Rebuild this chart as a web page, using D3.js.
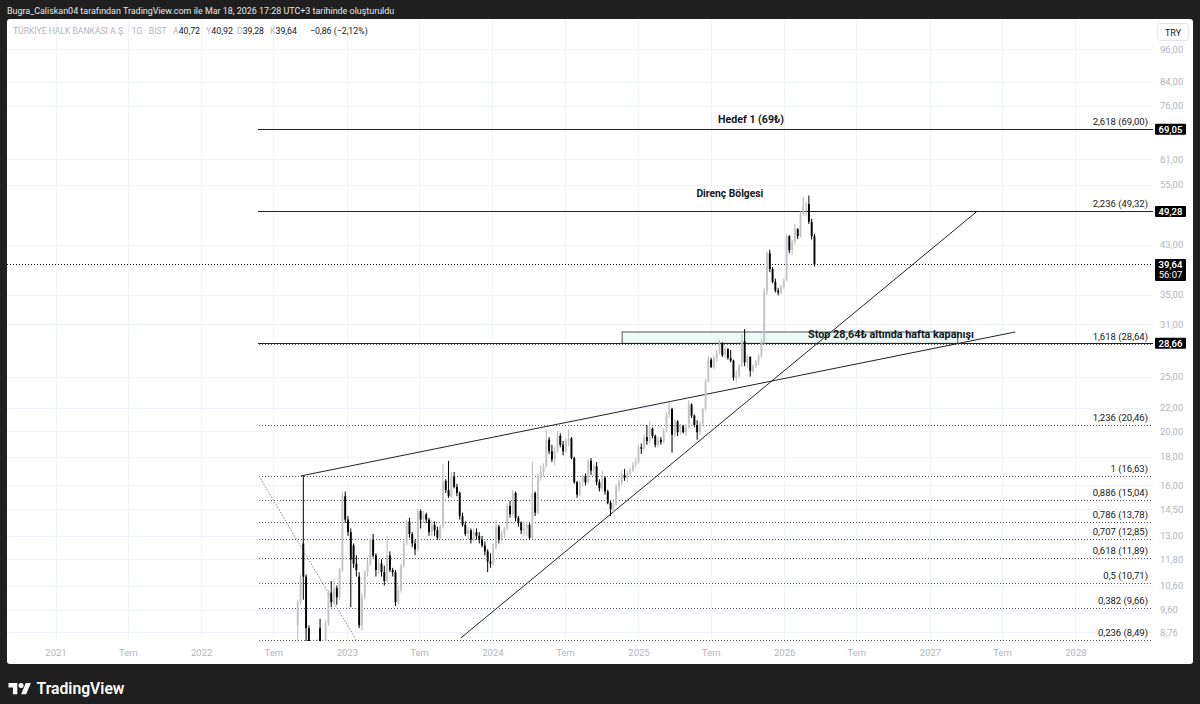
<!DOCTYPE html>
<html><head><meta charset="utf-8">
<script src="https://cdn.jsdelivr.net/npm/d3@7"></script>
<style>
html,body{margin:0;padding:0;background:#1f1f1f;}
svg{display:block;}
text{font-family:Roboto,"Noto Sans",sans-serif;}
</style>
</head><body>
<svg id="c" width="1200" height="704"></svg>
<script>
// ---------- DATA ----------
const weekStart = "2022-08-29";
const opens = [
9.0,9.9,12.6,11.0,8.9,8.0,7.6,7.3,8.9,8.1,
8.3,9.1,10.3,9.9,10.5,10.1,11.3,15.3,13.9,13.2,
12.5,11.6,11.0,9.0,10.1,11.2,11.6,12.8,12.0,11.3,
11.6,11.2,10.8,12.0,11.3,11.2,9.9,10.4,11.5,12.6,
13.8,13.1,12.6,12.3,14.4,13.9,14.2,13.9,13.2,13.6,
13.3,12.9,13.5,16.3,15.7,15.3,16.6,15.9,15.5,14.1,
13.6,13.1,13.3,12.8,13.2,13.0,12.8,12.5,12.2,11.7,
11.6,12.4,13.5,12.8,13.1,13.4,14.7,14.2,15.5,14.0,
13.7,13.3,13.4,13.6,12.9,15.5,14.3,16.6,16.9,17.3,
19.3,18.4,17.8,18.4,19.6,18.9,18.4,19.2,19.4,17.9,
16.2,15.4,16.2,16.6,16.2,17.7,17.0,17.3,16.2,15.8,
16.5,15.6,14.9,14.5,14.8,15.9,16.2,16.7,16.5,16.8,
17.0,17.4,17.6,18.7,18.6,19.5,19.2,20.2,19.6,18.9,
19.3,19.1,20.0,21.4,21.9,19.7,20.8,19.9,20.4,19.9,
20.3,22.3,21.3,20.5,19.9,20.6,21.9,24.5,26.8,26.0,
27.0,27.6,28.6,27.3,28.0,27.0,26.7,24.9,25.0,26.2,
28.9,26.5,27.1,25.6,26.1,26.6,27.2,28.8,35.5,41.5,
38.9,36.9,35.6,35.3,36.1,37.1,44.5,42.0,43.5,45.8,
44.5,48.8,50.6,50.8,47.2,44.5];
const highs = [
10.0,11.1,16.63,11.1,9.0,8.2,7.8,8.5,9.25,8.5,
9.2,10.4,10.8,10.9,10.6,11.4,15.6,15.6,14.1,13.4,
12.6,12.0,11.2,10.3,11.3,11.8,12.9,13.1,12.1,11.8,
11.8,11.5,13.0,12.2,11.4,11.3,10.6,11.6,12.8,13.9,
14.0,13.2,12.8,14.5,14.5,14.4,14.3,14.0,13.9,13.8,
13.5,13.6,17.5,16.4,17.7,16.9,16.9,16.1,15.6,14.3,
13.8,13.5,13.4,13.4,13.4,13.2,13.0,12.7,12.3,12.1,
12.6,13.9,13.6,13.3,13.5,14.8,15.0,15.7,15.6,14.1,
13.8,13.8,13.8,13.7,17.6,15.6,16.8,17.4,17.5,20.1,
19.5,18.9,18.7,20.0,19.8,19.2,19.4,20.1,19.5,18.0,
16.3,16.3,16.7,16.8,17.8,17.9,17.5,17.6,16.4,17.0,
16.6,15.7,15.0,15.0,16.1,16.4,17.0,17.1,17.0,17.2,
17.6,17.9,18.9,19.0,19.7,20.5,20.8,20.3,19.7,19.5,
19.5,20.2,21.6,22.5,22.0,21.0,20.9,20.6,20.5,20.5,
22.7,22.4,21.4,20.9,20.8,22.0,24.8,27.2,27.0,27.3,
27.9,29.1,28.8,28.4,28.1,27.9,26.8,25.6,26.3,29.7,
30.4,27.4,27.2,26.3,26.8,27.4,29.2,36.0,41.8,42.1,
39.2,37.4,36.0,36.5,37.4,44.8,44.7,43.9,46.8,46.0,
49.3,52.3,51.3,52.6,47.8,44.9];
const lows = [
8.4,9.8,10.0,8.3,7.8,7.4,7.1,7.2,7.9,7.8,
8.2,9.0,9.7,9.8,9.8,10.0,11.2,13.7,13.0,9.7,
11.4,11.0,8.9,8.8,10.0,11.0,11.5,11.9,11.0,11.1,
11.0,10.6,10.7,11.2,11.0,9.75,9.8,10.3,11.4,12.5,
12.9,12.4,12.0,12.2,13.4,13.7,13.7,13.0,13.0,13.0,
12.8,12.8,13.4,15.5,15.2,15.2,15.8,15.3,13.9,13.5,
13.0,12.8,12.6,12.7,12.8,12.6,12.4,12.0,11.2,11.4,
11.5,12.3,12.6,12.7,12.9,13.3,14.0,14.1,13.8,13.5,
13.1,13.0,13.0,12.8,12.8,14.1,14.2,16.3,16.6,17.2,
18.2,17.6,17.4,18.3,18.7,18.1,18.3,18.8,17.8,16.1,
15.2,15.3,15.9,16.0,16.1,16.7,16.6,16.0,15.6,15.6,
15.4,14.8,14.1,14.3,14.7,15.6,16.0,16.3,16.2,16.6,
16.9,17.2,17.5,18.2,18.5,18.9,19.0,19.4,18.7,18.7,
18.9,19.0,19.9,21.1,18.3,19.5,19.6,19.7,19.8,19.6,
20.2,21.1,20.3,19.3,19.7,20.4,21.7,24.4,25.9,25.8,
26.6,27.4,27.1,27.0,26.8,26.5,24.6,24.4,24.9,26.0,
26.1,25.9,25.0,25.4,25.9,26.2,27.0,28.6,35.0,38.4,
36.7,35.3,34.9,35.0,35.9,37.0,41.5,41.2,43.0,44.0,
44.3,48.4,48.4,46.8,43.9,39.28];
const closes = [
9.9,10.9,11.0,8.9,8.0,7.6,7.3,8.4,8.1,8.3,
9.1,10.3,9.9,10.5,10.1,11.3,15.3,13.9,13.2,11.8,
11.6,11.3,9.0,10.1,11.2,11.6,12.8,12.0,11.3,11.6,
11.2,10.8,12.0,11.3,11.2,9.9,10.4,11.5,12.6,13.8,
13.1,12.6,12.3,14.4,13.9,14.2,13.9,13.2,13.6,13.3,
12.9,13.5,16.2,15.7,15.3,16.6,15.9,15.5,14.1,13.6,
13.1,13.3,12.8,13.2,13.0,12.8,12.5,12.2,11.7,11.6,
12.4,13.5,12.8,13.1,13.4,14.7,14.2,15.5,14.0,13.7,
13.3,13.4,13.6,12.9,15.5,14.3,16.6,16.9,17.3,19.3,
18.4,17.8,18.4,19.6,18.9,18.4,19.2,19.4,17.9,16.2,
15.4,16.2,16.6,16.2,17.7,17.0,17.3,16.2,15.8,16.5,
15.6,14.9,14.5,14.8,15.9,16.2,16.7,16.5,16.8,17.0,
17.4,17.6,18.7,18.6,19.5,19.2,20.2,19.6,18.9,19.3,
19.1,20.0,21.4,21.9,19.7,20.8,19.9,20.4,19.9,20.3,
22.3,21.3,20.5,19.9,20.6,21.9,24.5,26.8,26.0,27.0,
27.6,28.6,27.3,28.0,27.0,26.7,24.9,25.0,26.2,28.9,
26.5,27.1,25.6,26.1,26.6,27.2,28.8,35.5,41.5,38.9,
36.9,35.6,35.3,36.1,37.1,44.5,42.0,43.5,45.8,44.5,
48.8,50.6,50.8,47.2,44.5,39.64];

const priceTicks = [96,84,76,61,55,43,35,31,25,22,20,18,16,14.5,13,11.8,10.6,9.6,8.76];
const timeTicks = ["2021-01-01","2021-07-01","2022-01-01","2022-07-01","2023-01-01","2023-07-01","2024-01-01","2024-07-01","2025-01-01","2025-07-01","2026-01-01","2026-07-01","2027-01-01","2027-07-01","2028-01-01"];
const timeLabels = ["2021","Tem","2022","Tem","2023","Tem","2024","Tem","2025","Tem","2026","Tem","2027","Tem","2028"];

const fibRatios = [2.618,2.236,1.618,1.236,1,0.886,0.786,0.707,0.618,0.5,0.382,0.236];
const fibPrices = [69.00,49.32,28.64,20.46,16.63,15.04,13.78,12.85,11.89,10.71,9.66,8.49];
const fibStartDate = "2022-05-26";
const fibEndDate = "2023-04-09";
const fibHigh = 16.63;
const fibLow = 6.90;

const rayPrices = [69.05, 49.28, 28.66];
const lastPrice = 39.64;
const countdown = "56:07";

const trendStarts = [["2022-09-08",16.63],["2023-10-14",8.55]];
const trendEnds   = [["2027-08-03",30.03],["2027-04-30",49.33]];

const boxDates = ["2024-11-21","2027-03-12"];
const boxPrices = [30.03, 28.66];

const noteTexts = ["Hedef 1 (69₺)","Direnç Bölgesi","Stop 28,64₺ altında hafta kapanışı"];
const noteDates = ["2025-10-10","2025-08-18","2026-03-02"];
const notePrices = [70.85, 52.3, 29.3];

const symbolName = "TÜRKİYE HALK BANKASI A.Ş. · 1G · BIST";
const legendKeys = ["A","Y","D","K"];
const legendVals = [40.72,40.92,39.28,39.64];
const changeAbs = -0.86, changePct = -2.12;
const headerText = "Bugra_Caliskan04 tarafından TradingView.com ile Mar 18, 2026 17:28 UTC+3 tarihinde oluşturuldu";

// ---------- SETUP ----------
const svg = d3.select("#c");
const W = 1200, H = 704;
const plot = {left:7, right:1153, top:19, bottom:641};
const parse = d3.timeParse("%Y-%m-%d");
const loc = d3.formatLocale({decimal:",", thousands:".", grouping:[3], currency:["","₺"], minus:"−"});
const f2 = loc.format(".2f");
const fRatio = r => String(r).replace(".", ",");
function fitWidth(sel, target){
  const n = sel.node(); const L = n.getComputedTextLength();
  if (L > 0) sel.attr("font-size", (+sel.attr("font-size")) * target / L);
  return sel;
}

const x = d3.scaleTime().domain([parse("2021-01-01"), parse("2027-01-01")]).range([55.5, 929.8]);
const y = d3.scaleLog().domain([8.76, 96]).range([632, 49]);

// background
svg.append("rect").attr("width",W).attr("height",H).attr("fill","#1f1f1f");
svg.append("rect").attr("x",7).attr("y",19).attr("width",1186).attr("height",645).attr("rx",3).attr("fill","#ffffff");

// header
fitWidth(svg.append("text").attr("x",7).attr("y",14).attr("fill","#e8e8e8").attr("font-size",10.5).text(headerText), 388);

// clip
svg.append("defs").append("clipPath").attr("id","pc").append("rect")
  .attr("x",plot.left).attr("y",plot.top).attr("width",plot.right-plot.left).attr("height",plot.bottom-plot.top);

// grid
const grid = svg.append("g").attr("clip-path","url(#pc)");
grid.selectAll("line.h").data(priceTicks).join("line")
  .attr("x1",plot.left).attr("x2",plot.right).attr("y1",d=>Math.round(y(d))+0.5).attr("y2",d=>Math.round(y(d))+0.5)
  .attr("stroke","#f0f3fa").attr("stroke-width",1);
grid.selectAll("line.v").data(timeTicks.map(parse)).join("line")
  .attr("x1",d=>Math.round(x(d))+0.5).attr("x2",d=>Math.round(x(d))+0.5).attr("y1",plot.top).attr("y2",plot.bottom)
  .attr("stroke","#f0f3fa").attr("stroke-width",1);

// price axis
const yAxis = d3.axisRight(y).tickValues(priceTicks).tickFormat(f2).tickSize(0).tickPadding(0);
const ya = svg.append("g").attr("transform",`translate(1160,0)`).call(yAxis);
ya.select(".domain").remove();
ya.selectAll("text").attr("fill","#b2b5be").attr("font-size",9.5).attr("font-family","Roboto, sans-serif");

// time axis
const xAxis = d3.axisBottom(x).tickValues(timeTicks.map(parse)).tickFormat((d,i)=>timeLabels[i]).tickSize(0).tickPadding(3);
const xa = svg.append("g").attr("transform",`translate(0,646)`).call(xAxis);
xa.select(".domain").remove();
xa.selectAll("text").attr("fill","#b2b5be").attr("font-size",9.5).attr("font-family","Roboto, sans-serif");

// chart layer
const g = svg.append("g").attr("clip-path","url(#pc)");

// stop box
g.append("rect")
  .attr("x",x(parse(boxDates[0]))).attr("y",y(boxPrices[0]))
  .attr("width",x(parse(boxDates[1]))-x(parse(boxDates[0]))).attr("height",y(boxPrices[1])-y(boxPrices[0]))
  .attr("fill","#edf9f5").attr("stroke","#555").attr("stroke-width",1);

// fib levels
const fx1 = x(parse(fibStartDate));
g.selectAll("line.fib").data(fibPrices).join("line")
  .attr("x1",fx1).attr("x2",plot.right).attr("y1",d=>Math.round(y(d))+0.5).attr("y2",d=>Math.round(y(d))+0.5)
  .attr("stroke","#555").attr("stroke-width",1).attr("stroke-dasharray","1,2");
g.append("line").attr("x1",fx1).attr("y1",y(fibHigh)).attr("x2",x(parse(fibEndDate))).attr("y2",y(fibLow))
  .attr("stroke","#888").attr("stroke-width",1).attr("stroke-dasharray","1.5,1.5");
svg.selectAll("text.fib").data(fibPrices).join("text")
  .attr("x",1148).attr("y",d=>y(d)-4).attr("text-anchor","end").attr("font-size",9.5).attr("fill","#131722")
  .text((d,i)=>`${fRatio(fibRatios[i])} (${f2(d)})`);

// horizontal rays
g.selectAll("line.ray").data(rayPrices).join("line")
  .attr("x1",fx1-1).attr("x2",plot.right).attr("y1",d=>Math.round(y(d))+0.5).attr("y2",d=>Math.round(y(d))+0.5)
  .attr("stroke","#222").attr("stroke-width",1);

// current price line
g.append("line").attr("x1",plot.left).attr("x2",plot.right)
  .attr("y1",Math.round(y(lastPrice))+0.5).attr("y2",Math.round(y(lastPrice))+0.5)
  .attr("stroke","#131722").attr("stroke-width",1).attr("stroke-dasharray","1,2");

// trend lines
g.selectAll("line.tr").data(trendStarts).join("line")
  .attr("x1",d=>x(parse(d[0]))).attr("y1",d=>y(d[1]))
  .attr("x2",(d,i)=>x(parse(trendEnds[i][0]))).attr("y2",(d,i)=>y(trendEnds[i][1]))
  .attr("stroke","#222").attr("stroke-width",1);

// candles
const candles = closes.map((c,i)=>({date:d3.timeDay.offset(parse(weekStart),7*i+2), o:opens[i], h:highs[i], l:lows[i], c}));
const up = d=>d.c>=d.o;
const bw = 1.9;
g.selectAll("line.wick").data(candles).join("line")
  .attr("x1",d=>x(d.date)).attr("x2",d=>x(d.date)).attr("y1",d=>y(d.h)).attr("y2",d=>y(d.l))
  .attr("stroke",d=>up(d)?"#b8b8b8":"#000").attr("stroke-width",1);
g.selectAll("rect.body").data(candles).join("rect")
  .attr("x",d=>x(d.date)-bw/2).attr("y",d=>y(Math.max(d.o,d.c)))
  .attr("width",bw).attr("height",d=>Math.max(1,Math.abs(y(d.o)-y(d.c))))
  .attr("fill",d=>up(d)?"#c4c4c4":"#000");

// notes
const noteWidths = [66,67,166];
svg.selectAll("text.note").data(noteTexts).join("text")
  .attr("x",(d,i)=>x(parse(noteDates[i]))).attr("y",(d,i)=>y(notePrices[i]))
  .attr("text-anchor",(d,i)=>i<2?"middle":"start")
  .attr("font-family","'Noto Sans', 'DejaVu Sans', sans-serif").attr("font-weight",700).attr("font-size",10)
  .attr("fill","#131722").text(d=>d)
  .each(function(d,i){ fitWidth(d3.select(this), noteWidths[i]); });

// price boxes
const pb = svg.append("g");
rayPrices.forEach(p=>{
  const yy = y(p);
  pb.append("rect").attr("x",1155).attr("y",yy-5.5).attr("width",31).attr("height",11).attr("rx",1).attr("fill","#000");
  pb.append("text").attr("x",1170.5).attr("y",yy+3.4).attr("text-anchor","middle").attr("font-size",9.5).attr("font-weight",600).attr("fill","#fff").text(f2(p));
});
{
  const yy = y(lastPrice);
  pb.append("rect").attr("x",1155).attr("y",yy-5.5).attr("width",31).attr("height",22).attr("rx",1).attr("fill","#000");
  pb.append("text").attr("x",1170.5).attr("y",yy+3.4).attr("text-anchor","middle").attr("font-size",9.5).attr("font-weight",600).attr("fill","#fff").text(f2(lastPrice));
  pb.append("text").attr("x",1170.5).attr("y",yy+14).attr("text-anchor","middle").attr("font-size",9.5).attr("fill","#fff").text(countdown);
}

// TRY box
svg.append("rect").attr("x",1157.5).attr("y",23.5).attr("width",31).attr("height",17).attr("rx",3).attr("fill","#fff").attr("stroke","#e0e3eb");
svg.append("text").attr("x",1173).attr("y",35.5).attr("text-anchor","middle").attr("font-size",9).attr("fill","#131722").text("TRY");

// legend
fitWidth(svg.append("text").attr("x",13).attr("y",34).attr("font-size",9.5).attr("fill","#b2b5be").text(symbolName), 154);
const legX = [173,206,237,270];
let legFont = 9.5;
legendKeys.forEach((k,i)=>{
  const t = svg.append("text").attr("x",legX[i]).attr("y",34).attr("font-size",9.5);
  t.append("tspan").attr("fill","#b2b5be").text(k);
  t.append("tspan").attr("fill","#131722").text(f2(legendVals[i]));
  fitWidth(t, 27);
  legFont = +t.attr("font-size");
});
svg.append("text").attr("x",310).attr("y",34).attr("font-size",legFont).attr("fill","#131722")
  .text(`${f2(changeAbs)} (${f2(changePct)}%)`);

// TradingView logo
const logo = svg.append("g").attr("transform","translate(8.5,680.5) scale(0.63)").attr("fill","#ffffff");
logo.append("path").attr("d","M14 22H7V11H0V4h14v18zM28 22h-8l7.5-18h8L28 22z");
logo.append("circle").attr("cx",20).attr("cy",8).attr("r",4);
fitWidth(svg.append("text").attr("x",36.5).attr("y",694).attr("font-size",16).attr("font-weight",600).attr("fill","#ffffff").text("TradingView"), 88);
</script>
</body></html>
